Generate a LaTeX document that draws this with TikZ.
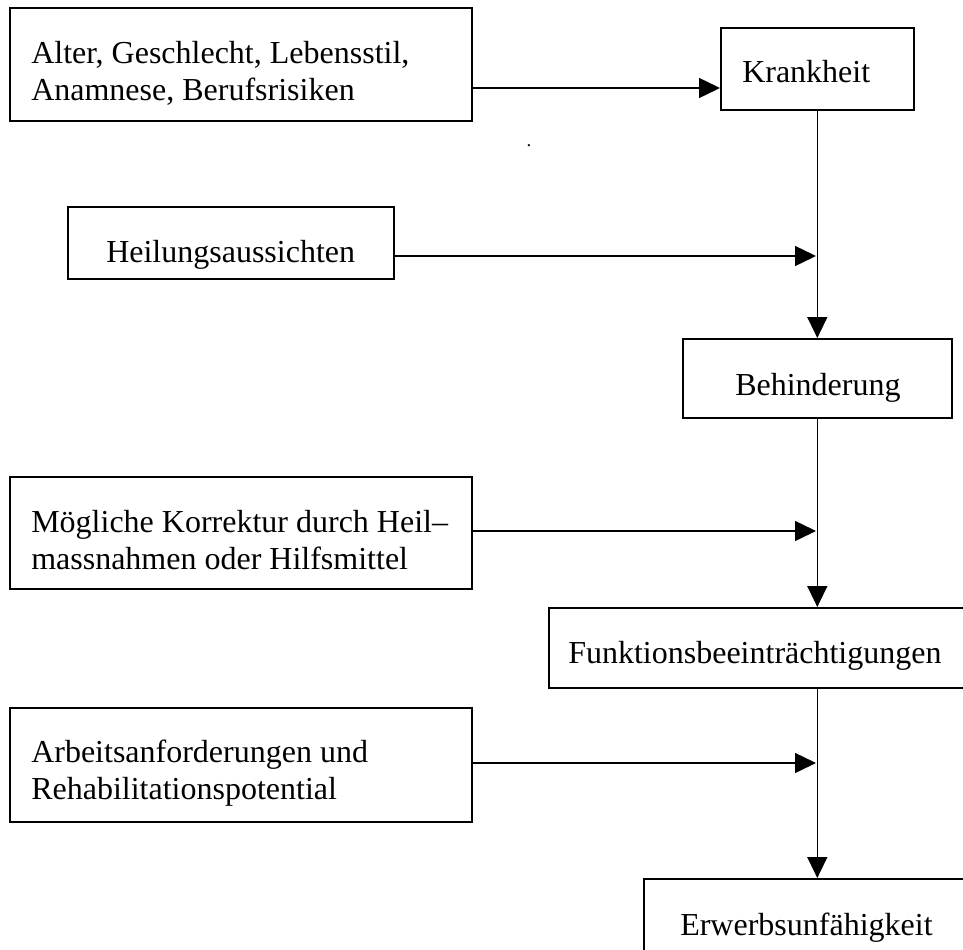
\documentclass[tikz,border=0pt]{standalone}
\usepackage{fontspec}
\setmainfont{Liberation Serif}
\usetikzlibrary{arrows.meta}
\begin{document}
\begin{tikzpicture}[x=0.75pt,y=-0.75pt,
        box/.style={draw,line width=1.2pt,inner sep=0pt,anchor=north west},
        txt/.style={inner sep=0pt,anchor=base west,align=left},
        flow/.style={line width=1.1pt,-{Triangle[length=15.75pt,width=15pt]}},
        font=\fontsize{24}{27.75}\selectfont]
        \useasboundingbox (0,0) rectangle (963,949);
        \clip (0,0) rectangle (963,949);
        %% left column: influences
        \node[box,minimum width=346.5pt,minimum height=84.75pt] (risk) at (9,7) {};
        \node[txt] (risktxt) at (31,100) {Alter, Geschlecht, Lebensstil,\\Anamnese, Berufsrisiken};
        \node[box,minimum width=244.5pt,minimum height=54pt] (heil) at (67,206) {};
        \node[txt] (heiltxt) at (106,262) {Heilungsaussichten};
        \node[box,minimum width=346.5pt,minimum height=84pt] (korr) at (9,476) {};
        \node[txt] (korrtxt) at (31,569) {Mögliche Korrektur durch Heil–\\massnahmen oder Hilfsmittel};
        \node[box,minimum width=346.5pt,minimum height=85.5pt] (arb) at (9,707) {};
        \node[txt] (arbtxt) at (31,799) {Arbeitsanforderungen und\\Rehabilitationspotential};
        %% right column: stages
        \node[box,minimum width=144.75pt,minimum height=61.5pt] (kra) at (720,27) {};
        \node[txt] (kratxt) at (742,83) {Krankheit};
        \node[box,minimum width=201.75pt,minimum height=59.25pt] (beh) at (682,338) {};
        \node[txt] (behtxt) at (735,395) {Behinderung};
        \node[box,minimum width=331.5pt,minimum height=60pt] (funk) at (548,607) {};
        \node[txt] (funktxt) at (568,663) {Funktionsbeeinträchtigungen};
        \node[box,minimum width=260.25pt,minimum height=84pt] (erw) at (643,878) {};
        \node[txt] (erwtxt) at (680,935) {Erwerbsunfähigkeit};
        \node[inner sep=0pt,anchor=base] (speck) at (529,146) {\fontsize{14}{14}\selectfont .};
        %% row heights of the arrows
        \coordinate (r1) at (816,88);
        \coordinate (r2) at (816,256);
        \coordinate (r3) at (816,531);
        \coordinate (r4) at (816,763);
        %% spine
        \draw[flow] (kra.south) -- (beh.north);
        \draw[flow] (beh.south) -- (beh.south |- funk.north);
        \draw[flow] (beh.south |- funk.south) -- (beh.south |- erw.north);
        %% side arrows
        \draw[flow] (risk.east |- r1) -- (kra.west |- r1);
        \draw[flow] (heil.east |- r2) -- (r2);
        \draw[flow] (korr.east |- r3) -- (r3);
        \draw[flow] (arb.east |- r4) -- (r4);
\end{tikzpicture}
\end{document}
